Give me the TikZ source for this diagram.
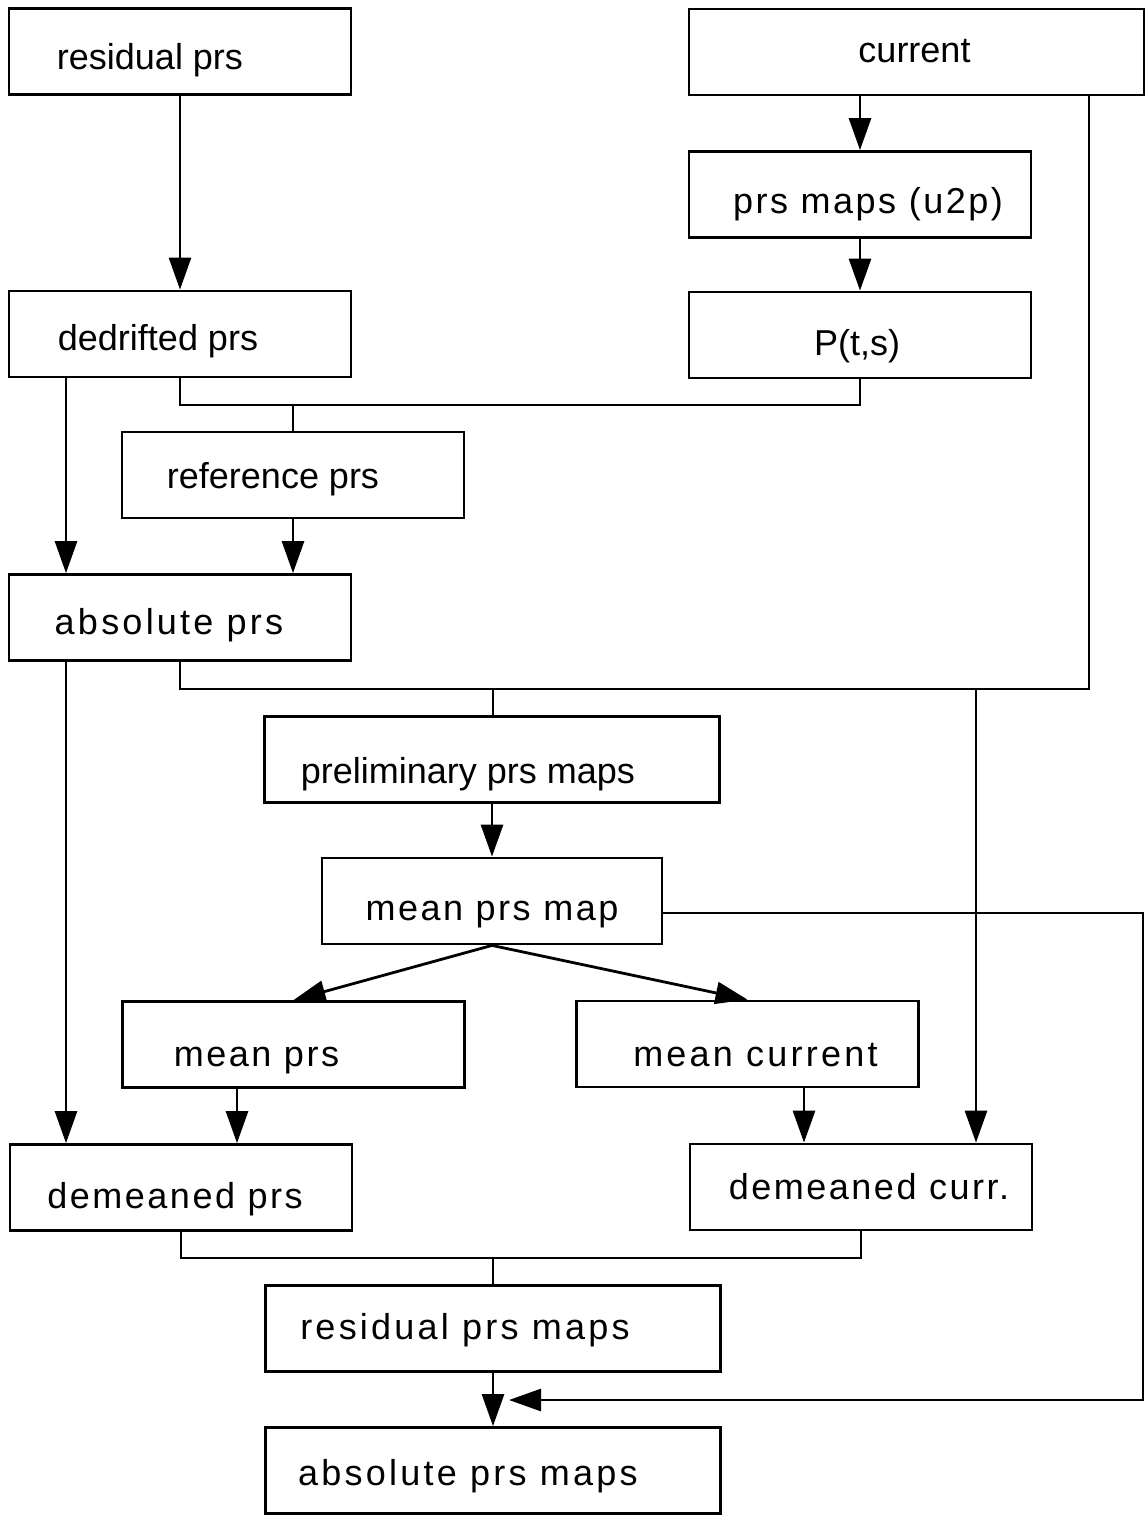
\documentclass[tikz,border=0pt]{standalone}
\usepackage{fontspec}
\setmainfont{Liberation Sans}
\newfontfamily\widefont[LetterSpace=7]{Liberation Sans}
\newfontfamily\widerfont[LetterSpace=9]{Liberation Sans}
\usetikzlibrary{arrows.meta}
\newlength{\pix}
\setlength{\pix}{0.5pt}
\newcommand*{\bwd  }{342\pix}
\newcommand*{\bwide}{455\pix}
\newcommand*{\bht  }{86\pix}
% label text, moved by dx and dy pixels inside its box
\newcommand*{\lbl}[3]{\raisebox{-#2\pix}{\makebox[0pt]{\hspace*{#1\pix}\hspace*{#1\pix}#3}}}

\begin{document}
\begin{tikzpicture}[x=0.5pt, y=-0.5pt, font=\fontsize{18}{22}\selectfont, line width=1.4pt,
    box/.style={draw, minimum width=\bwd, minimum height=\bht, inner sep=0pt, text height=13pt, text depth=3.8pt},
    wbox/.style={box, minimum width=\bwide},
    wide/.style={font=\widefont\fontsize{18}{22}\selectfont},
    wider/.style={font=\widerfont\fontsize{18}{22}\selectfont},
    arr/.style={-{Triangle[length=16pt, width=11pt]}}]
    \useasboundingbox (0,0) rectangle (1146,1516);
    % boxes
    \node [box]         (rprs) at (180,51.5)    {\lbl{-30}{9}{residual prs}};
    \node [wbox]        (curr) at (916.5,52)    {\lbl{-2}{1}{current}};
    \node [box, wide]   (maps) at (860,194.5)   {\lbl{8}{10}{prs maps (u2p)}};
    \node [box]         (pts)  at (860,335)     {\lbl{-3}{11}{P(t,s)}};
    \node [box]         (dprs) at (180,334)     {\lbl{-22}{7}{dedrifted prs}};
    \node [box]         (refp) at (293,475)     {\lbl{-20}{4}{reference prs}};
    \node [box, wider]  (aprs) at (180,617.5)   {\lbl{-11}{8}{absolute prs}};
    \node [wbox]        (prel) at (492,759.5)   {\lbl{-24}{15}{preliminary prs maps}};
    \node [box, wide, minimum width=340\pix] (mmap) at (492,901) {\lbl{0}{10}{mean prs map}};
    \node [box, wide]   (mprs) at (293.5,1044.5) {\lbl{-37}{13}{mean prs}};
    \node [box, wider]  (mcur) at (747.5,1044)  {\lbl{8}{13}{mean current}};
    \node [box, wide]   (demp) at (181,1187.5)  {\lbl{-6}{12}{demeaned prs}};
    \node [box, wide]   (demc) at (861,1187)    {\lbl{8}{3}{demeaned curr.}};
    \node [wbox, wider] (resm) at (493,1328.5)  {\lbl{-28}{2}{residual prs maps}};
    \node [wbox, wider] (absm) at (493,1470.5)  {\lbl{-25}{6}{absolute prs maps}};
    % lanes and junctions
    \coordinate (lane)  at (66,0);
    \coordinate (mlane) at (237,0);
    \coordinate (dlane) at (804,0);
    \coordinate (clane) at (976,0);
    \coordinate (rlane) at (1089,0);
    \coordinate (ba) at (293,405);
    \coordinate (bb) at (493,689);
    \coordinate (bc) at (493,1258);
    \coordinate (fb) at (1143,1400);
    % connectors
    \draw [arr] (rprs) -- (dprs);
    \draw [arr] (curr.south -| maps.north) -- (maps.north);
    \draw [arr] (maps) -- (pts);
    \draw (dprs.south) |- (ba) -| (pts.south);
    \draw (ba) -- (refp.north);
    \draw [arr] (dprs.south -| lane) -- (aprs.north -| lane);
    \draw [arr] (refp.south) -- (refp.south |- aprs.north);
    \draw (aprs.south) |- (bb) -| (curr.south -| rlane);
    \draw (bb) -- (prel.north -| bb);
    \draw [arr] (bb -| clane) -- (demc.north -| clane);
    \draw [arr] (aprs.south -| lane) -- (demp.north -| lane);
    \draw [arr] (prel) -- (mmap);
    \draw [arr] (mmap.south) -- (mprs.north);
    \draw [arr] (mmap.south) -- (mcur.north);
    \draw [arr] (mprs.south -| mlane) -- (demp.north -| mlane);
    \draw [arr] (mcur.south -| dlane) -- (demc.north -| dlane);
    \draw (demp.south) |- (bc) -| (demc.south);
    \draw (bc) -- (resm.north);
    \draw [arr] (resm) -- (absm);
    \draw [arr, shorten >=16\pix] (mmap.east) ++(0,12) -| (fb) -- (fb -| absm.north);
\end{tikzpicture}
\end{document}
